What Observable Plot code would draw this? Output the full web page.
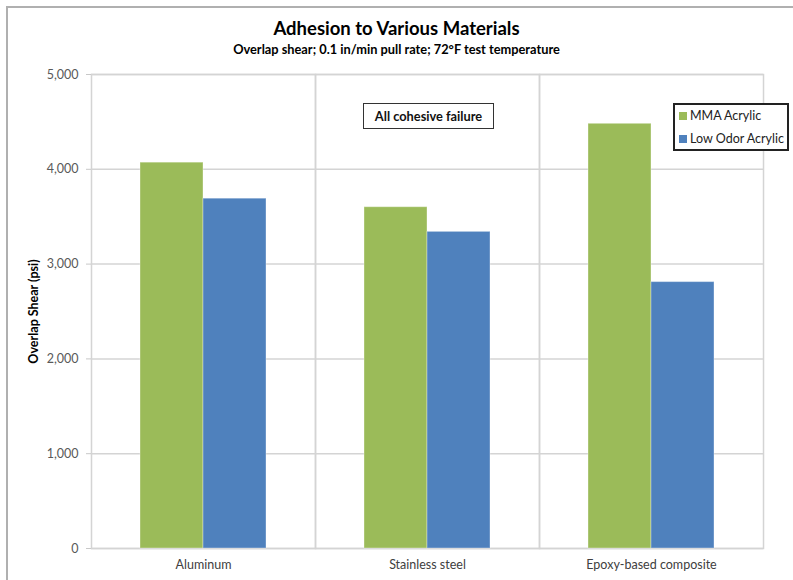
<!DOCTYPE html>
<html>
<head>
<meta charset="utf-8">
<script src="https://cdn.jsdelivr.net/npm/d3@7"></script>
<script src="https://cdn.jsdelivr.net/npm/@observablehq/plot@0.6"></script>
<style>
  html, body { margin: 0; padding: 0; background: #fff; overflow: hidden; }
  #wrap { position: relative; width: 793px; height: 580px; overflow: hidden; font-family: Lato, "Open Sans", sans-serif; }
  #border { position: absolute; left: 6px; top: 6px; width: 900px; height: 700px; border-left: 2px solid #b0b0b0; border-top: 2px solid #b0b0b0; }
  #title { position: absolute; left: 0; width: 793px; top: 17px; text-align: center; font-weight: bold; font-size: 18.5px; color: #000; }
  #subtitle { position: absolute; left: 0; width: 793px; top: 41px; text-align: center; font-weight: bold; font-size: 12.8px; color: #000; }
  #chart { position: absolute; left: 0; top: 62px; }
  #legend { position: absolute; left: 673px; top: 103px; width: 112px; height: 44px; border: 2px solid #222; background: #fff; font-size: 12.5px; color: #222; }
  .li { position: absolute; left: 4px; white-space: nowrap; }
  .sw { display: inline-block; width: 8px; height: 8px; margin-right: 3px; vertical-align: 0px; }
  #note { position: absolute; left: 363px; top: 103px; width: 129px; height: 24px; border: 1.5px solid #333; background: #fff; font-size: 12.8px; font-weight: bold; text-align: center; line-height: 24px; color: #111; }
</style>
</head>
<body>
<div id="wrap">
  <div id="border"></div>
  <div id="title">Adhesion to Various Materials</div>
  <div id="subtitle">Overlap shear; 0.1 in/min pull rate; 72°F test temperature</div>
  <div id="chart"></div>
  <div id="note">All cohesive failure</div>
  <div id="legend"></div>
</div>
<script>
const categories = ["Aluminum", "Stainless steel", "Epoxy-based composite"];
const series = ["MMA Acrylic", "Low Odor Acrylic"];
const mmaValues = [4070, 3600, 4480];
const lowOdorValues = [3690, 3340, 2810];
const colors = ["#9BBB59", "#4F81BD"];
const yTicks = [0, 1000, 2000, 3000, 4000, 5000];

const data = [];
categories.forEach((c, i) => {
  data.push({category: c, series: series[0], value: mmaValues[i]});
  data.push({category: c, series: series[1], value: lowOdorValues[i]});
});

const plot = Plot.plot({
  width: 793,
  height: 518,
  marginTop: 12,
  marginBottom: 32,
  marginLeft: 91,
  marginRight: 30,
  style: {fontFamily: "Lato, 'Open Sans', sans-serif", fontSize: "12.5px", color: "#404040", background: "transparent"},
  fx: {domain: categories, padding: 0, label: null, axis: "bottom", tickSize: 0, tickPadding: 12},
  x: {domain: series, axis: null, paddingInner: 0, paddingOuter: 0.76},
  y: {domain: [0, 5000], ticks: yTicks, tickFormat: d3.format(","), label: null, tickSize: 5, tickPadding: 8},
  color: {domain: series, range: colors},
  marks: [
    Plot.gridY(yTicks, {stroke: "#d4d4d4", strokeOpacity: 1, strokeWidth: 1.5}),
    Plot.frame({stroke: "#d4d4d4", strokeWidth: 1.5}),
    Plot.barY(data, {fx: "category", x: "series", y: "value", fill: "series", stroke: "#ffffff", strokeOpacity: 0.35, strokeWidth: 1}),
    Plot.axisY(yTicks, {tickFormat: d3.format(","), tickSize: 5, tickPadding: 8, stroke: "#c8c8c8", color: "#595959", label: null, fontSize: 12.5}),
    Plot.ruleX([0], {stroke: "#c8c8c8"}),
    Plot.text(["Overlap Shear (psi)"], {frameAnchor: "left", textAnchor: "middle", dx: -58, rotate: -90, fontWeight: "bold", fill: "#000", fontSize: 12.5, facetAnchor: "left"})
  ]
});
document.getElementById("chart").appendChild(plot);

const legend = document.getElementById("legend");
series.forEach((s, i) => {
  const d = document.createElement("div");
  d.className = "li";
  d.style.top = (i === 0 ? 3 : 26) + "px";
  d.innerHTML = `<span class="sw" style="background:${colors[i]}"></span>${s}`;
  legend.appendChild(d);
});
</script>
</body>
</html>
